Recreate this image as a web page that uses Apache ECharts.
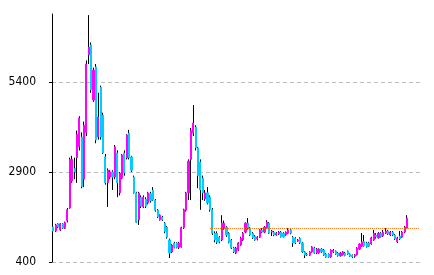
<!DOCTYPE html>
<html><head><meta charset="utf-8">
<script src="https://cdn.jsdelivr.net/npm/echarts@6/dist/echarts.min.js"></script>
<style>html,body{margin:0;padding:0;background:#fff}#c{width:434px;height:275px}</style>
</head><body><div id="c"></div>
<script>
const opens  = [1370,1260,1460,1290,1460,1340,1550,1900,2650,3000,3300,3600,3870,2700,4000,6150,6430,4900,5820,3870,5260,4480,3320,2600,2760,2900,2760,3430,2320,2730,3430,3290,3980,3320,2760,2320,1570,2200,1930,2150,2040,2300,2400,2120,1840,1570,1650,1480,1370,1010,680,930,930,800,820,1350,1840,2320,3250,3980,4150,3570,3180,2730,2150,2320,2200,1850,1200,1200,1090,1010,1340,1370,1200,1010,790,650,730,870,1010,1230,1480,1340,1200,1120,1040,1090,1290,1230,1340,1480,1230,1230,1150,1180,1230,1200,1150,1200,1290,1090,1060,980,1060,930,680,620,590,680,790,650,650,760,730,620,620,540,680,700,650,570,600,650,700,620,590,560,600,760,840,960,930,930,900,1010,1150,1070,1200,1120,1200,1260,1150,1230,1150,960,1120,1090,1230,1340];
const closes = [1260,1430,1370,1460,1340,1500,1850,3250,3250,2900,3950,4400,2500,4200,5900,6370,5180,5730,3790,4430,3870,3430,2600,2950,2900,2760,3600,2600,2870,3370,2870,3930,3300,2950,2320,1500,2320,1950,2200,1950,2320,2100,2120,1840,1650,1700,1570,1250,1090,650,870,800,800,930,1350,1850,2320,3200,4050,4260,3570,2800,2400,2320,2320,2040,1850,1200,1010,950,950,1480,1480,1150,950,790,680,790,930,1070,1200,1480,1340,1150,1070,1010,1090,1290,1230,1370,1510,1200,1260,1150,1200,1230,1100,1100,1230,1290,1200,930,930,1010,930,680,590,600,680,820,650,760,760,680,590,540,540,730,730,620,570,650,680,580,620,560,540,600,790,900,960,850,820,840,1070,1200,1100,1200,1100,1230,1260,1180,1230,1150,1040,1070,1040,1230,1370,1620];
const lows   = [1150,1230,1340,1260,1320,1320,1500,1880,2600,2700,2600,3500,2450,2480,3900,5900,5100,4850,3700,3800,3800,3400,2550,1930,2700,2400,2700,2200,2250,2700,2800,3250,3250,2900,2300,1480,1430,1900,1900,1900,2000,2050,2100,1800,1620,1550,1540,1200,1050,510,650,780,780,760,800,1320,1800,2120,2120,3900,3500,2450,1850,2120,2100,2000,1800,1150,950,900,920,980,1300,1100,920,760,650,620,700,850,980,1200,1300,1120,1040,990,1000,1070,1200,1200,1320,1180,1120,1120,1130,1150,1080,1080,1130,1180,1170,820,900,960,900,650,510,570,570,660,630,620,630,650,570,520,520,520,650,600,550,550,580,560,600,540,510,520,580,740,820,830,800,820,880,990,1050,1050,1080,1100,1180,1150,1120,1120,1010,930,1010,1070,1200,1320];
const highs  = [1400,1460,1480,1480,1480,1520,1900,3300,3350,3300,4050,4450,4000,4300,6000,7260,6500,5800,5900,5100,5300,4550,3400,3000,2950,2950,3650,3500,2900,3400,3500,3950,4070,3350,2800,2350,2350,2250,2250,2200,2350,2350,2480,2150,1870,1720,1680,1510,1400,1050,900,960,950,960,1380,1880,2350,3250,4120,4760,4200,3600,3250,2800,2400,2480,2250,1900,1250,1250,1120,1700,1550,1400,1230,1040,820,820,950,1100,1230,1500,1620,1370,1230,1150,1120,1310,1340,1400,1560,1510,1290,1260,1230,1260,1260,1230,1250,1340,1310,1120,1090,1040,1090,960,700,650,700,840,820,790,780,790,760,650,640,750,760,720,680,680,700,680,720,640,610,620,810,920,1206,1150,960,960,1100,1290,1200,1230,1230,1290,1340,1290,1260,1260,1180,1100,1260,1260,1400,1700];
const emptySlots = 5;
const yTicks = [400, 2900, 5400];
const refLevel = 1344;
const refStartIndex = 66;

const categories = [];
for (let i = 0; i < opens.length + emptySlots; i++) categories.push(String(i + 1));
const full = opens.map((o, i) => [o, closes[i], lows[i], highs[i]]);
const bodies = opens.map((o, i) => [o, closes[i], Math.min(o, closes[i]), Math.max(o, closes[i])]);

const chart = echarts.init(document.getElementById('c'), null, {renderer: 'canvas'});
chart.setOption({
  animation: false,
  backgroundColor: '#fff',
  grid: {left: 52, right: 14, top: 14, bottom: 13, containLabel: false},
  xAxis: {
    type: 'category', data: categories, boundaryGap: true,
    axisLine: {show: false}, axisTick: {show: false}, axisLabel: {show: false}, splitLine: {show: false}
  },
  yAxis: {
    type: 'value', min: 400, max: 7290, interval: 2500,
    axisLine: {show: true, lineStyle: {color: '#000', width: 1}},
    axisTick: {show: true, length: 3, inside: false, customValues: yTicks, lineStyle: {color: '#000'}},
    axisLabel: {
      customValues: yTicks, margin: 16, color: '#000', fontSize: 12,
      formatter: v => String(v),
      fontFamily: "'Liberation Sans Narrow', 'DejaVu Sans Condensed', 'Liberation Sans', sans-serif"
    },
    splitLine: {show: true, lineStyle: {color: '#bdbdbd', width: 1, type: [4, 3]}}
  },
  series: [
    {
      type: 'candlestick', data: full, barWidth: 1, z: 2,
      itemStyle: {color: '#000', color0: '#000', borderColor: '#000', borderColor0: '#000', borderWidth: 1}
    },
    {
      type: 'candlestick', data: bodies, barWidth: 1.6, z: 3,
      itemStyle: {color: '#ff00ff', color0: '#00ccff', borderColor: '#ff00ff', borderColor0: '#00ccff', borderWidth: 1},
      markLine: {
        silent: true, symbol: ['none', 'none'], label: {show: false},
        lineStyle: {color: '#f26b00', width: 1, type: [1, 1]},
        data: [[{coord: [refStartIndex, refLevel]}, {coord: [categories.length - 1, refLevel]}]]
      }
    }
  ]
});
</script>
</body></html>
